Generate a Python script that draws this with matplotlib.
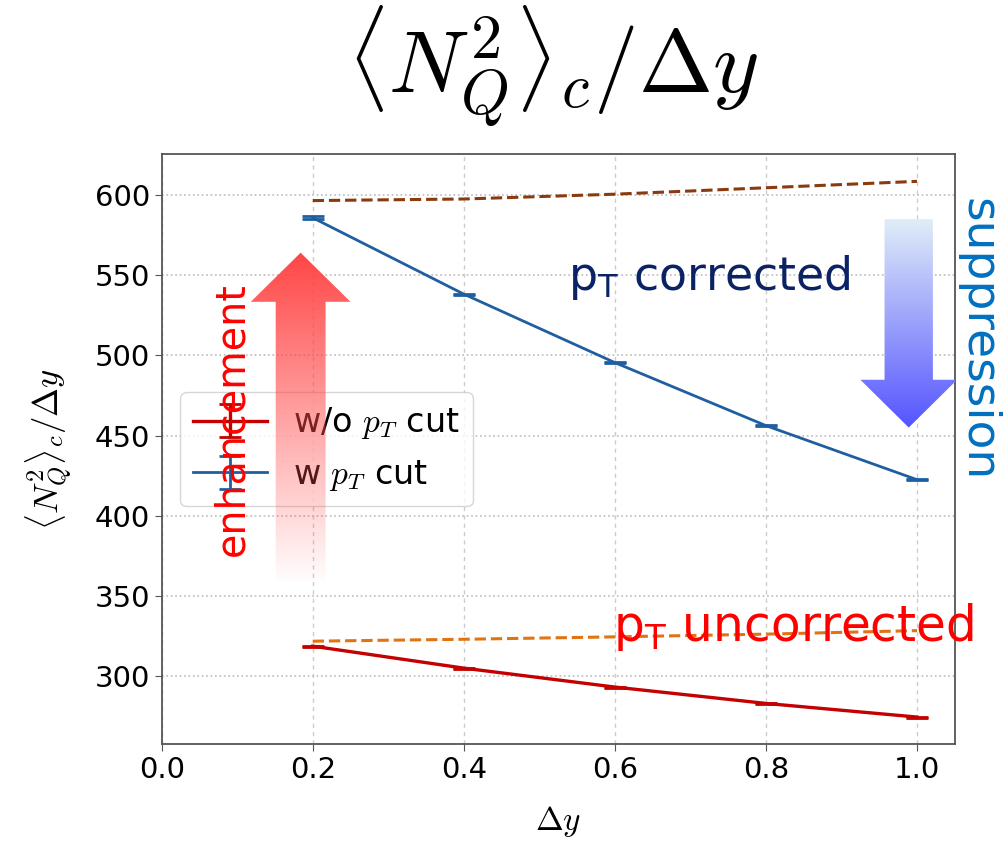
import numpy as np
import matplotlib.pyplot as plt
from matplotlib.patches import Polygon

plt.rcParams.update(
    {
        "mathtext.fontset": "cm",
        "font.family": "DejaVu Sans",
        "axes.edgecolor": "#555555",
    }
)

dy = [0.2, 0.4, 0.6, 0.8, 1.0]

# corrected / uncorrected curves (dashed)
corr_top = [596.5, 597.5, 600.5, 604.5, 608.5]
corr_bot = [321.8, 323.0, 324.5, 326.2, 328.4]

# w pT cut (blue) and w/o pT cut (red) with tiny errors
w_cut = [585.8, 538.2, 495.5, 456.2, 422.5]
w_cut_err = [0.9, 0.3, 0.3, 0.3, 0.3]
wo_cut = [318.7, 305.0, 293.2, 283.0, 274.5]
wo_cut_err = [0.3, 0.3, 0.3, 0.3, 0.3]

xticks = [0.0, 0.2, 0.4, 0.6, 0.8, 1.0]
yticks = [300, 350, 400, 450, 500, 550, 600]

fig = plt.figure(figsize=(10.04, 8.42), dpi=100)
ax = fig.add_axes([0.161, 0.116, 0.790, 0.701])

ax.plot(dy, corr_top, "--", color="#8B3A0F", lw=2.2, zorder=3)
ax.plot(dy, corr_bot, "--", color="#E07412", lw=2.2, zorder=3)
ax.errorbar(dy, wo_cut, yerr=wo_cut_err, color="#C40000", lw=2.4,
            capsize=8, capthick=2, label=r"w/o $p_T$ cut", zorder=4)
ax.errorbar(dy, w_cut, yerr=w_cut_err, color="#1F5FA0", lw=2.0,
            capsize=8, capthick=2, label=r"w $p_T$ cut", zorder=4)

ax.set_xticks(xticks)
ax.set_yticks(yticks)
ax.tick_params(labelsize=21, length=5, color="#555555")
ax.grid(True, axis="y", linestyle=":", color="#bbbbbb", lw=1.2)
ax.grid(True, axis="x", linestyle=(0, (3, 3)), color="#cccccc", lw=1.0)
for s in ax.spines.values():
    s.set_linewidth(1.3)

ax.set_xlabel(r"$\Delta y$", fontsize=24, labelpad=14)
ax.set_ylabel(r"$\langle N_Q^2\rangle_c/\Delta y$", fontsize=25, labelpad=14)
fig.text(0.55, 0.922, r"$\langle N_Q^2\rangle_c/\Delta y$", fontsize=64,
         ha="center", va="center")

leg = ax.legend(loc="upper left", bbox_to_anchor=(0.023, 0.597), borderaxespad=0,
                fontsize=24, fancybox=True, framealpha=0.8, handlelength=2.2)


def gradient_arrow(tip_x, tip_y, base_y, end_y, half_head, half_shaft, colors):
    # polygon of an arrow pointing from end_y towards tip_y
    pts = [
        (tip_x - half_shaft, end_y),
        (tip_x - half_shaft, base_y),
        (tip_x - half_head, base_y),
        (tip_x, tip_y),
        (tip_x + half_head, base_y),
        (tip_x + half_shaft, base_y),
        (tip_x + half_shaft, end_y),
    ]
    poly = Polygon(pts, closed=True, facecolor="none", edgecolor="none",
                   transform=ax.transData)
    ax.add_patch(poly)
    poly.set_clip_on(False)
    n = 256
    c0, c1 = np.array(colors[0]), np.array(colors[1])
    t = np.linspace(0, 1, n)[:, None]
    img = (c0 * (1 - t) + c1 * t)[:, None, :]
    lo, hi = min(tip_y, end_y), max(tip_y, end_y)
    im = ax.imshow(img, extent=[tip_x - half_head, tip_x + half_head, lo, hi],
                   origin="lower", aspect="auto", zorder=6, interpolation="bilinear")
    im.set_clip_path(poly)
    im.set_clip_on(True)
    return im


# red enhancement arrow (up): bottom faded, top solid
gradient_arrow(0.184, 564.0, 533.4, 357.0, 0.066, 0.033,
               [(1.0, 0.29, 0.29, 0.0), (1.0, 0.27, 0.27, 1.0)])
# blue suppression arrow (down): top pale, bottom saturated
gradient_arrow(0.989, 455.0, 484.8, 585.0, 0.064, 0.032,
               [(0.33, 0.33, 1.0, 1.0), (0.88, 0.93, 0.97, 1.0)])

ax.text(0.538, 541.0, r"p$_\mathrm{T}$ corrected", fontsize=33, color="#0B2265",
        math_fontfamily="dejavusans", ha="left", va="baseline", zorder=7)
ax.text(0.597, 322.0, r"p$_\mathrm{T}$ uncorrected", fontsize=35, color="#FF0000",
        math_fontfamily="dejavusans", ha="left", va="baseline", zorder=7,
        clip_on=False)
ax.text(0.093, 460.0, "enhancement", fontsize=28.5, color="#FF0000", rotation=90,
        ha="center", va="center", zorder=7)
ax.text(1.081, 510.0, "suppression", fontsize=34, color="#0070C0", rotation=-90,
        ha="center", va="center", zorder=7, clip_on=False)

ax.set_xlim(0, 1.05)
ax.set_ylim(257.5, 625.5)

fig.savefig("out.png", dpi=100)
